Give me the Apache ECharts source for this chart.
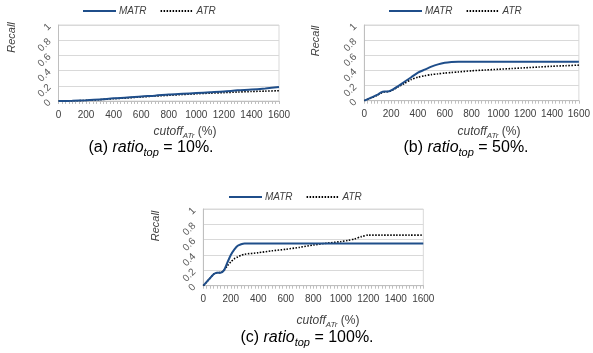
<!DOCTYPE html>
<html><head><meta charset="utf-8">
<script src="https://cdn.jsdelivr.net/npm/echarts@6/dist/echarts.min.js"></script>
<style>html,body{margin:0;padding:0;background:#fff}#c{width:593px;height:353px}</style>
</head><body><div id="c"></div>
<script>
// ---- data ----
const xTickLabels = ['0','200','400','600','800','1000','1200','1400','1600'];
const yTickLabels = ['0','0.2','0.4','0.6','0.8','1'];

const xsA   = [0,100,200,300,400,500,600,700,800,900,1000,1100,1200,1300,1400,1500,1600];
const matrA = [0,0.003,0.01,0.02,0.035,0.045,0.06,0.07,0.085,0.095,0.105,0.115,0.125,0.14,0.15,0.165,0.183];
const atrA  = [0,0.002,0.008,0.018,0.03,0.04,0.053,0.065,0.075,0.085,0.095,0.103,0.11,0.118,0.125,0.13,0.135];

const xsB   = [0,50,100,125,150,175,200,250,300,350,400,450,500,550,600,650,700,800,900,1000,1100,1200,1300,1400,1500,1600];
const matrB = [0,0.04,0.08,0.11,0.12,0.12,0.135,0.19,0.25,0.31,0.37,0.41,0.45,0.48,0.5,0.51,0.515,0.515,0.515,0.515,0.515,0.515,0.515,0.515,0.515,0.515];
const atrB  = [0,0.035,0.075,0.1,0.115,0.12,0.13,0.18,0.23,0.28,0.31,0.33,0.345,0.355,0.365,0.372,0.38,0.395,0.405,0.415,0.425,0.435,0.445,0.455,0.462,0.47];

const xsC   = [0,25,50,75,100,125,150,175,200,225,250,275,300,400,500,600,700,800,900,1000,1050,1100,1150,1200,1300,1400,1500,1600];
const matrC = [0,0.05,0.1,0.15,0.17,0.17,0.2,0.3,0.4,0.47,0.52,0.54,0.55,0.55,0.55,0.55,0.55,0.55,0.55,0.55,0.55,0.55,0.55,0.55,0.55,0.55,0.55,0.55];
const atrC  = [0,0.05,0.1,0.15,0.17,0.17,0.2,0.26,0.31,0.35,0.375,0.395,0.41,0.43,0.455,0.475,0.5,0.53,0.555,0.575,0.59,0.61,0.64,0.66,0.66,0.66,0.66,0.66];

const captions = ['10%.', '50%.', '100%.'];
const letters = ['(a)', '(b)', '(c)'];

// ---- chart ----
const FONT = 'Liberation Sans, Arial, sans-serif';
const BLUE = '#1f4e8a';
const grids = [
  {left: 58.5, top: 25, width: 220.5, height: 76},
  {left: 364.3, top: 25, width: 219.4, height: 75.7},
  {left: 203.3, top: 209, width: 220, height: 76.7}
];
const pairs = (xs, ys) => xs.map((x, i) => [x, ys[i]]);
const sets = [[xsA, matrA, atrA], [xsB, matrB, atrB], [xsC, matrC, atrC]];

const xAxis = [], yAxis = [], series = [], legend = [];
grids.forEach((g, i) => {
  xAxis.push({
    type: 'value', gridIndex: i, min: 0, max: 1600, interval: 200,
    axisLine: {show: true, lineStyle: {color: '#bfbfbf', width: 1}},
    axisTick: {show: true, length: 3, lineStyle: {color: '#bfbfbf'}},
    minorTick: {show: true, splitNumber: 8, length: 3, lineStyle: {color: '#bfbfbf'}},
    splitLine: {show: false},
    axisLabel: {fontFamily: FONT, fontSize: 10, color: '#404040', margin: 9,
      formatter: v => xTickLabels[Math.round(v / 200)]}
  });
  yAxis.push({
    type: 'value', gridIndex: i, min: 0, max: 1, interval: 0.2,
    axisLine: {show: true, lineStyle: {color: '#bfbfbf', width: 1}},
    axisTick: {show: false},
    splitLine: {show: true, lineStyle: {color: '#d9d9d9', width: 1}},
    axisLabel: {fontFamily: FONT, fontSize: 10, color: '#595959', rotate: 45, margin: 9,
      showMinLabel: true, showMaxLabel: true, hideOverlap: false,
      formatter: v => yTickLabels[Math.round(v / 0.2)]}
  });
  const [xs, m, a] = sets[i];
  series.push({
    name: 'MATR', type: 'line', xAxisIndex: i, yAxisIndex: i, data: pairs(xs, m),
    symbol: 'none', smooth: 0.25, lineStyle: {color: BLUE, width: 2}, itemStyle: {color: BLUE}, z: 3
  });
  series.push({
    name: 'ATR', type: 'line', xAxisIndex: i, yAxisIndex: i, data: pairs(xs, a),
    symbol: 'none', smooth: 0.25, lineStyle: {color: '#000', width: 1.6, type: [1.5, 1.5]}, itemStyle: {color: '#000'}, z: 2
  });
});
const legendPos = [[82, 6], [388, 6], [228, 192]];
legendPos.forEach(p => legend.push({
  data: ['MATR', 'ATR'], left: p[0], top: p[1], itemWidth: 33, itemHeight: 12, itemGap: 13,
  itemStyle: {opacity: 0},
  textStyle: {fontFamily: FONT, fontSize: 10, fontStyle: 'italic', color: '#404040', padding: [0, 0, 0, -2]}, padding: 0
}));

const graphic = [];
const recallPos = [[12, 37.5], [316, 41], [156, 226]];
recallPos.forEach(p => graphic.push({
  type: 'text', x: p[0], y: p[1], rotation: Math.PI / 2,
  style: {text: 'Recall', fontFamily: FONT, fontSize: 11, fontStyle: 'italic', fill: '#404040', align: 'center', verticalAlign: 'middle'}
}));
const xtPos = [[185, 133], [489, 133], [328, 322]];
xtPos.forEach(p => graphic.push({
  type: 'text', x: p[0], y: p[1],
  style: {
    text: '{i|cutoff}{s|ATr}{n| (%)}', align: 'center', verticalAlign: 'middle',
    rich: {
      i: {fontFamily: FONT, fontSize: 12, fontStyle: 'italic', fill: '#404040', lineHeight: 14, verticalAlign: 'top'},
      s: {fontFamily: FONT, fontSize: 8, fontStyle: 'italic', fill: '#404040', lineHeight: 8, verticalAlign: 'bottom'},
      n: {fontFamily: FONT, fontSize: 12, fill: '#404040', lineHeight: 14, verticalAlign: 'top'}
    }
  }
}));
const capPos = [[151, 149], [466, 149], [307, 339]];
capPos.forEach((p, i) => graphic.push({
  type: 'text', x: p[0], y: p[1],
  style: {
    text: '{n|' + letters[i] + ' }{i|ratio}{s|top}{n| = ' + captions[i] + '}', align: 'center', verticalAlign: 'middle',
    rich: {
      n: {fontFamily: FONT, fontSize: 16, fill: '#000', lineHeight: 18, verticalAlign: 'top'},
      i: {fontFamily: FONT, fontSize: 16, fontStyle: 'italic', fill: '#000', lineHeight: 18, verticalAlign: 'top'},
      s: {fontFamily: FONT, fontSize: 11, fontStyle: 'italic', fill: '#000', lineHeight: 11, verticalAlign: 'bottom'}
    }
  }
}));

const chart = echarts.init(document.getElementById('c'));
chart.setOption({
  animation: false,
  grid: grids.map(g => Object.assign({show: true, borderColor: '#d9d9d9', borderWidth: 1, backgroundColor: 'transparent'}, g)),
  xAxis, yAxis, series, legend, graphic
});
</script></body></html>
